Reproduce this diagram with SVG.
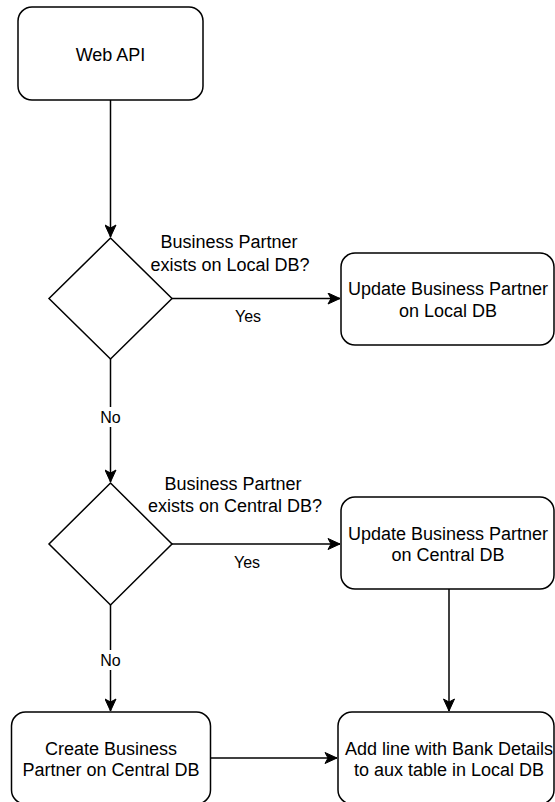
<svg xmlns="http://www.w3.org/2000/svg" width="555" height="802" viewBox="0 0 555 802">
  <style>
    .box { fill: #ffffff; stroke: #000000; stroke-width: 1.5; }
    .edge { fill: none; stroke: #000000; stroke-width: 1.5; }
    .t { font-family: "Liberation Sans", Arial, sans-serif; font-size: 18px; fill: #000000; text-anchor: middle; }
    .lbl { font-family: "Liberation Sans", Arial, sans-serif; font-size: 16px; fill: #000000; text-anchor: middle; }
  </style>
  <defs>
    <marker id="arrow" markerUnits="userSpaceOnUse" markerWidth="14" markerHeight="12" viewBox="-13 -6 14 12" refX="0" refY="0" orient="auto">
      <path d="M0,0 L-12,-5.5 L-9,0 L-12,5.5 Z" fill="#000000" stroke="#000000" stroke-width="1"/>
    </marker>
  </defs>
  <rect width="555" height="802" fill="#ffffff"/>

  <g id="connectors">
    <path class="edge" d="M110.5,100 L110.5,237" marker-end="url(#arrow)"/>
    <path class="edge" d="M172,298.5 L340,298.5" marker-end="url(#arrow)"/>
    <path class="edge" d="M110.5,359 L110.5,482" marker-end="url(#arrow)"/>
    <path class="edge" d="M172,544 L340,544" marker-end="url(#arrow)"/>
    <path class="edge" d="M110.5,605 L110.5,711" marker-end="url(#arrow)"/>
    <path class="edge" d="M449,589 L449,711" marker-end="url(#arrow)"/>
    <path class="edge" d="M211,758 L337,758" marker-end="url(#arrow)"/>
    <text class="lbl" x="248" y="322">Yes</text>
    <text class="lbl" x="247" y="568">Yes</text>
    <rect x="99" y="407" width="23" height="20" fill="#ffffff"/>
    <text class="lbl" x="110.5" y="423">No</text>
    <rect x="99" y="650" width="23" height="20" fill="#ffffff"/>
    <text class="lbl" x="110.5" y="666">No</text>
  </g>

  <g id="web-api">
    <rect class="box" x="18" y="7" width="185" height="93" rx="14" ry="14"/>
    <text class="t" x="110.5" y="60.5">Web API</text>
  </g>

  <g id="check-local">
    <path class="box" d="M110.5,238 L172,298.5 L110.5,359 L49,298.5 Z"/>
    <text class="t" x="229" y="248">Business Partner</text>
    <text class="t" x="230" y="271">exists on Local DB?</text>
  </g>

  <g id="update-local">
    <rect class="box" x="341" y="253" width="213" height="92" rx="14" ry="14"/>
    <text class="t" x="448" y="295">Update Business Partner</text>
    <text class="t" x="448" y="316.5">on Local DB</text>
  </g>

  <g id="check-central">
    <path class="box" d="M110.5,483 L172,544 L110.5,605 L49,544 Z"/>
    <text class="t" x="233" y="490">Business Partner</text>
    <text class="t" x="235" y="512">exists on Central DB?</text>
  </g>

  <g id="update-central">
    <rect class="box" x="341" y="497" width="213" height="92" rx="14" ry="14"/>
    <text class="t" x="448" y="539.5">Update Business Partner</text>
    <text class="t" x="448" y="561">on Central DB</text>
  </g>

  <g id="create-central">
    <rect class="box" x="11.5" y="712" width="199" height="92" rx="14" ry="14"/>
    <text class="t" x="111" y="754.5">Create Business</text>
    <text class="t" x="111" y="776">Partner on Central DB</text>
  </g>

  <g id="add-bank-details">
    <rect class="box" x="338" y="712" width="216" height="92" rx="14" ry="14"/>
    <text class="t" x="449" y="754.5">Add line with Bank Details</text>
    <text class="t" x="449" y="776">to aux table in Local DB</text>
  </g>
</svg>
